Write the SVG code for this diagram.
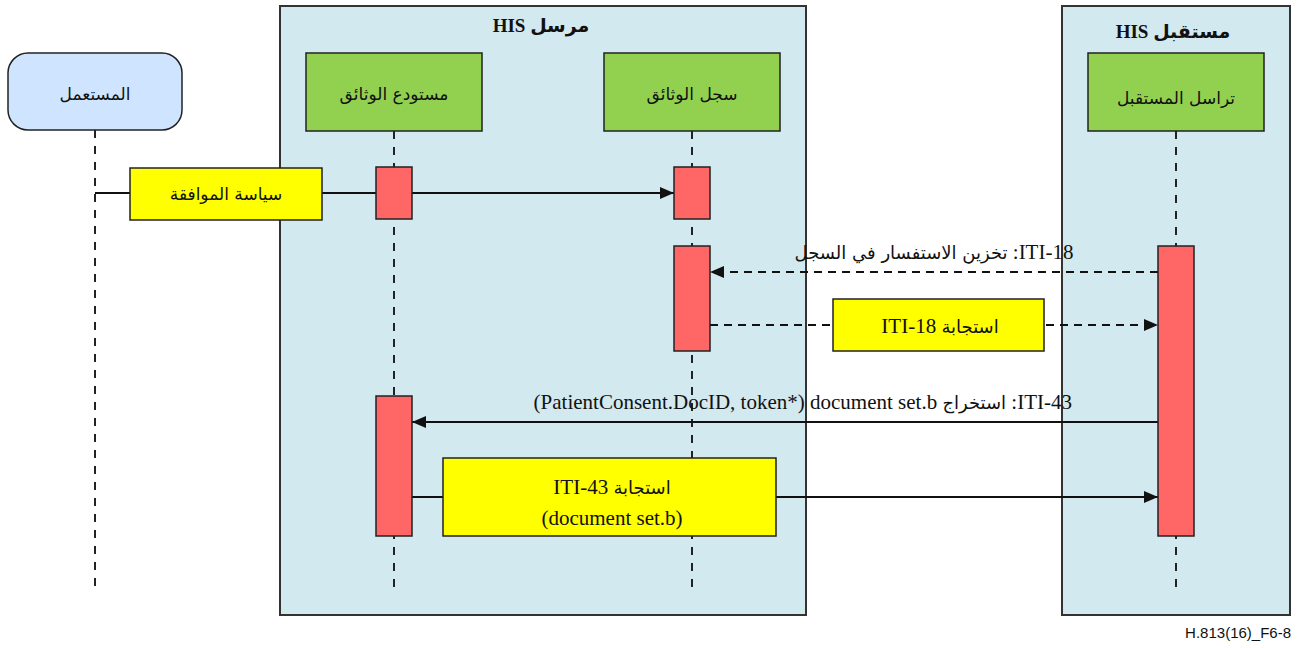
<svg xmlns="http://www.w3.org/2000/svg" width="1305" height="648" viewBox="0 0 1305 648">
<style>
  .panel{fill:#D2E9EF;stroke:#333;stroke-width:2}
  .actor{fill:#92D050;stroke:#222;stroke-width:1.5}
  .user{fill:#CFE5FF;stroke:#222;stroke-width:1.5}
  .life{stroke:#222;stroke-width:2;stroke-dasharray:8,8;fill:none}
  .bar{fill:#FF6666;stroke:#222;stroke-width:1.5}
  .note{fill:#FFFF00;stroke:#222;stroke-width:1.5}
  .msg{stroke:#111;stroke-width:2;fill:none}
  .dash{stroke-dasharray:8,6}
  .t{font-family:"Liberation Serif","DejaVu Sans",serif;font-size:21px;fill:#111}
  .a{font-family:"DejaVu Sans",serif;font-size:18px}
  .ar{font-family:"DejaVu Sans","Liberation Serif",serif;font-size:17px;fill:#111}
  .title{font-family:"Liberation Serif","DejaVu Sans",serif;font-size:19px;font-weight:bold;fill:#111}
  .foot{font-family:"Liberation Sans",sans-serif;font-size:15px;fill:#111}
</style>
<defs>
  <marker id="arr" markerWidth="14" markerHeight="12" refX="14" refY="6" orient="auto" markerUnits="userSpaceOnUse">
    <path d="M0,0 L14,6 L0,12 Z" fill="#111"/>
  </marker>
</defs>

<g id="panel-sender">
  <rect class="panel" x="280" y="6" width="526" height="609"/>
  <text class="title" x="541" y="32" text-anchor="middle" direction="rtl">مرسل HIS</text>
</g>
<g id="panel-recipient">
  <rect class="panel" x="1062" y="6" width="228" height="609"/>
  <text class="title" x="1173" y="38" text-anchor="middle" direction="rtl">مستقبل HIS</text>
</g>

<g id="lifelines">
  <line class="life" x1="95" y1="130" x2="95" y2="590"/>
  <line class="life" x1="394" y1="131" x2="394" y2="590"/>
  <line class="life" x1="692" y1="131" x2="692" y2="590"/>
  <line class="life" x1="1176" y1="131" x2="1176" y2="590"/>
</g>

<g id="connectors">
  <line class="msg" x1="95" y1="193" x2="674" y2="193" marker-end="url(#arr)"/>
  <line class="msg dash" x1="1158" y1="272" x2="710" y2="272" marker-end="url(#arr)"/>
  <line class="msg dash" x1="710" y1="325" x2="1158" y2="325" marker-end="url(#arr)"/>
  <line class="msg" x1="1158" y1="422" x2="412" y2="422" marker-end="url(#arr)"/>
  <line class="msg" x1="412" y1="497" x2="1158" y2="497" marker-end="url(#arr)"/>
  <text class="t" x="934" y="259" text-anchor="middle" direction="rtl">ITI-18: <tspan class="a">تخزين الاستفسار في السجل</tspan></text>
  <text class="t" x="1072" y="409" text-anchor="end">(PatientConsent.DocID, token*) document set.b <tspan class="a">استخراج</tspan> :ITI-43</text>
</g>

<g id="user">
  <rect class="user" x="8" y="53" width="174" height="77" rx="20"/>
  <text class="ar" x="95" y="100" text-anchor="middle" direction="rtl">المستعمل</text>
</g>
<g id="repository">
  <rect class="actor" x="306" y="53" width="176" height="78"/>
  <text class="ar" x="394" y="100" text-anchor="middle" direction="rtl">مستودع الوثائق</text>
  <rect class="bar" x="376" y="167" width="36" height="52"/>
  <rect class="bar" x="376" y="396" width="36" height="140"/>
</g>
<g id="registry">
  <rect class="actor" x="604" y="53" width="176" height="78"/>
  <text class="ar" x="692" y="100" text-anchor="middle" direction="rtl">سجل الوثائق</text>
  <rect class="bar" x="674" y="167" width="36" height="52"/>
  <rect class="bar" x="674" y="246" width="36" height="105"/>
</g>
<g id="recipient">
  <rect class="actor" x="1088" y="53" width="176" height="78"/>
  <text class="ar" x="1176" y="104" text-anchor="middle" direction="rtl">تراسل المستقبل</text>
  <rect class="bar" x="1158" y="246" width="36" height="290"/>
</g>

<g id="note-consent">
  <rect class="note" x="130" y="168" width="192" height="52"/>
  <text class="ar" x="226" y="200" text-anchor="middle" direction="rtl">سياسة الموافقة</text>
</g>
<g id="note-iti18">
  <rect class="note" x="833" y="299" width="211" height="52"/>
  <text class="t" x="940" y="333" text-anchor="middle" direction="rtl"><tspan class="a">استجابة</tspan> ITI-18</text>
</g>
<g id="note-iti43">
  <rect class="note" x="443" y="458" width="333" height="78"/>
  <text class="t" x="612" y="494" text-anchor="middle" direction="rtl"><tspan class="a">استجابة</tspan> ITI-43</text>
  <text class="t" x="612" y="525" text-anchor="middle">(document set.b)</text>
</g>

<text class="foot" x="1291" y="638" text-anchor="end">H.813(16)_F6-8</text>
</svg>
